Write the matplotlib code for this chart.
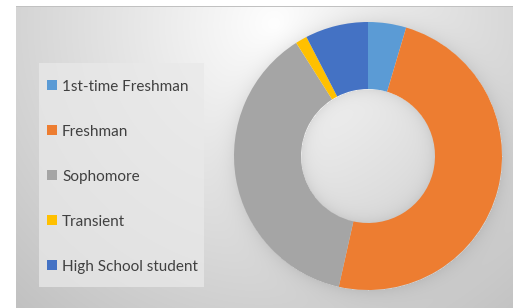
import numpy as np
import matplotlib
matplotlib.use("Agg")
import matplotlib.pyplot as plt
from matplotlib.patches import Rectangle

categories = ["1st-time Freshman", "Freshman", "Sophomore", "Transient", "High School student"]
values = [4.6, 48.9, 37.5, 1.4, 7.6]
colors = ["#5B9BD5", "#ED7D31", "#A5A5A5", "#FFC000", "#4472C4"]

W, H = 513, 308
fig = plt.figure(figsize=(W / 100, H / 100), dpi=100)
fig.patch.set_facecolor("white")

# background gradient panel
cx, cy, R = 368, 156, 134
yy, xx = np.mgrid[0:H, 0:W].astype(float)
d = np.hypot(xx - 275, yy - 25)
v = 1 - 0.235 * np.clip(d / 370, 0, 1.2) ** 0.95
r = np.hypot(xx - cx, yy - cy)
shadow = np.where(r > R, 0.07 * np.exp(-(r - R) / 9.0), 0)
inner = np.where(r < R / 2, 0.07 * np.exp(-(R / 2 - r) / 7.0), 0)
v = v - shadow - inner
img = np.dstack([v, v, v])
img[:6, :, :] = 1.0
img[:, :16, :] = 1.0
img[6, 16:, :] = 0.76
bg = fig.add_axes([0, 0, 1, 1])
bg.imshow(np.clip(img, 0, 1), extent=(0, W, H, 0), interpolation="bilinear", aspect="auto")
bg.set_xlim(0, W)
bg.set_ylim(H, 0)
bg.axis("off")
# legend box
bg.add_patch(Rectangle((39, 63), 165, 224, facecolor="#e9e9e9", alpha=0.75,
                       edgecolor="none"))

# donut
ax = fig.add_axes([(cx - R) / W, (H - cy - R) / H, 2 * R / W, 2 * R / H])
ax.patch.set_alpha(0)
wedges, _ = ax.pie(values, colors=colors, startangle=90, counterclock=False,
                   radius=1, wedgeprops=dict(width=0.5, linewidth=0))
ax.set_xlim(-1, 1)
ax.set_ylim(-1, 1)
ax.set_aspect("equal")
ax.axis("off")

leg = fig.legend(wedges, categories, loc="upper left",
                 bbox_to_anchor=(47 / W, 1 - 79.5 / H),
                 prop={"family": "Lato", "size": 11},
                 frameon=False, labelcolor="#404040",
                 handlelength=0.68, handleheight=0.68, handletextpad=0.3,
                 labelspacing=2.03, borderpad=0, borderaxespad=0)

fig.savefig("out.png", dpi=100)
